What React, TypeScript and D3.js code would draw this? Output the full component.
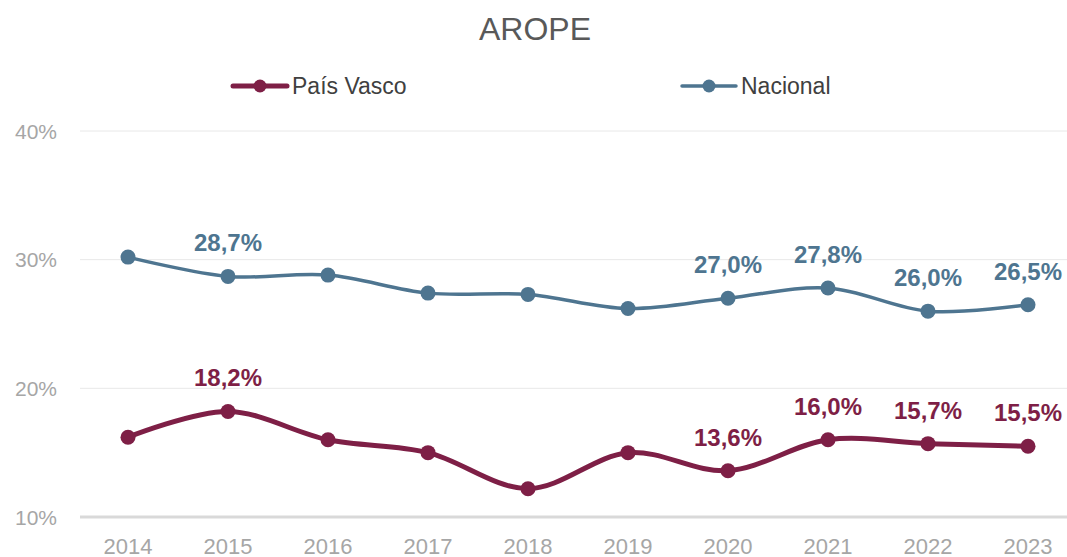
import React from "react";
import * as d3 from "d3";

const years = ["2014","2015","2016","2017","2018","2019","2020","2021","2022","2023"];
const paisVasco = [16.2, 18.2, 16.0, 15.0, 12.2, 15.0, 13.6, 16.0, 15.7, 15.5];
const nacional = [30.2, 28.7, 28.8, 27.4, 27.3, 26.2, 27.0, 27.8, 26.0, 26.5];
const labelYears = ["2015","2020","2021","2022","2023"];
const yTicks = [10, 20, 30, 40];

const W = 1067, H = 557;
const PV_COLOR = "#7E1F46";
const NAC_COLOR = "#4E7590";
const FONT = "'Liberation Sans', Arial, sans-serif";

export default function App() {
  const x = d3.scaleBand().domain(years).range([78, 1078]);
  const cx = (y: string) => (x(y) as number) + x.bandwidth() / 2;
  const y = d3.scaleLinear().domain([10, 40]).range([517, 131]);
  const line = d3.line<number>()
    .x((_, i) => cx(years[i]))
    .y((d) => y(d))
    .curve(d3.curveCardinal.tension(0));
  const fmt = (v: number) => v.toFixed(1).replace(".", ",") + "%";

  const series = [
    { name: "País Vasco", data: paisVasco, color: PV_COLOR, width: 5, r: 7.5 },
    { name: "Nacional", data: nacional, color: NAC_COLOR, width: 3.5, r: 7.5 },
  ];

  return (
    <svg width={W} height={H} style={{ position: "absolute", left: 0, top: 0, background: "#fff" }}>
      <text x={535} y={40} textAnchor="middle" fontFamily={FONT} fontSize={32} fill="#595959">AROPE</text>
      {/* legend */}
      {[{ s: series[0], x0: 233 }, { s: series[1], x0: 682 }].map(({ s, x0 }) => (
        <g key={s.name}>
          <line x1={x0} x2={x0 + 54} y1={86} y2={86} stroke={s.color} strokeWidth={s.width} strokeLinecap="round" />
          <circle cx={x0 + 27} cy={86} r={6.5} fill={s.color} />
          <text x={x0 + 59} y={94} fontFamily={FONT} fontSize={23} fill="#404040">{s.name}</text>
        </g>
      ))}
      {/* grid */}
      {yTicks.map((t) => (
        <g key={t}>
          {t !== 10 && (
            <line x1={80} x2={W} y1={y(t)} y2={y(t)} stroke="#e8e8e8" strokeWidth={1} />
          )}
          <text x={57} y={y(t) + 7.5} textAnchor="end" fontFamily={FONT} fontSize={21} fill="#a6a6a6">{t}%</text>
        </g>
      ))}
      <line x1={80} x2={W} y1={y(10)} y2={y(10)} stroke="#d9d9d9" strokeWidth={3} />
      {years.map((yr) => (
        <text key={yr} x={cx(yr)} y={554} textAnchor="middle" fontFamily={FONT} fontSize={22} fill="#a6a6a6">{yr}</text>
      ))}
      {series.map((s) => (
        <g key={s.name}>
          <path d={line(s.data) as string} fill="none" stroke={s.color} strokeWidth={s.width} strokeLinecap="round" />
          {s.data.map((v, i) => (
            <circle key={i} cx={cx(years[i])} cy={y(v)} r={s.r} fill={s.color} />
          ))}
          {s.data.map((v, i) =>
            labelYears.includes(years[i]) ? (
              <text key={"l" + i} x={cx(years[i])} y={y(v) - 25} textAnchor="middle" fontFamily={FONT}
                fontWeight="bold" fontSize={24} fill={s.color}>{fmt(v)}</text>
            ) : null
          )}
        </g>
      ))}
    </svg>
  );
}
